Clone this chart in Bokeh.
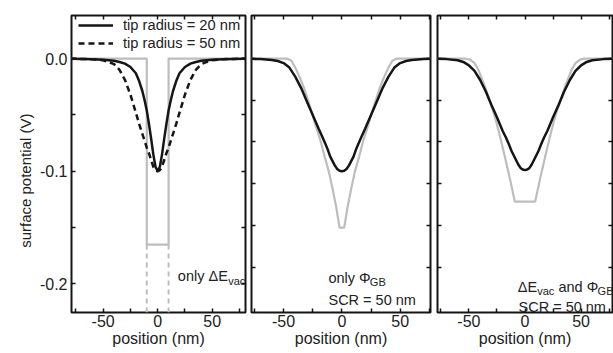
import math
from bokeh.plotting import figure
from bokeh.layouts import row
from bokeh.models import (Range1d, FixedTicker, LinearAxis, Label, Legend,
                          LegendItem, NumeralTickFormatter)
from bokeh.embed import file_html
from bokeh.resources import INLINE

# ---------------- data ----------------
x_grid = [-80, -70, -60, -55, -50, -45, -40, -35, -30, -25, -20, -17, -14, -12, -10,
          -8, -6, -4, -2, 0, 2, 4, 6, 8, 10, 12, 14, 17, 20, 25, 30, 35, 40, 45, 50,
          55, 60, 70, 80]

# panel 1: only dE_vac
tip20 = [-0.0002, -0.0003, -0.0006, -0.0008, -0.001, -0.0015, -0.002, -0.003, -0.0045,
         -0.0075, -0.013, -0.020, -0.029, -0.037, -0.046, -0.058, -0.071, -0.085, -0.096,
         -0.100, -0.096, -0.085, -0.071, -0.058, -0.046, -0.037, -0.029, -0.020, -0.013,
         -0.0075, -0.0045, -0.003, -0.002, -0.0015, -0.001, -0.0008, -0.0006, -0.0003,
         -0.0002]
tip50 = [-0.0002, -0.0003, -0.0006, -0.001, -0.0015, -0.003, -0.005, -0.010, -0.019,
         -0.032, -0.048, -0.058, -0.067, -0.073, -0.079, -0.084, -0.090, -0.096, -0.099,
         -0.100, -0.099, -0.096, -0.090, -0.084, -0.079, -0.073, -0.067, -0.058, -0.048,
         -0.032, -0.019, -0.010, -0.005, -0.003, -0.0015, -0.001, -0.0006, -0.0003,
         -0.0002]
step_x = [-80, -10, -10, 10, 10, 80]
step_y = [0, 0, -0.165, -0.165, 0, 0]
core_x = [-10, 10]
core_depth = -0.165

# panel 2: only Phi_GB
phi_meas = [-0.0002, -0.0004, -0.0012, -0.0022, -0.004, -0.008, -0.016, -0.026, -0.038,
            -0.050, -0.062, -0.069, -0.076, -0.081, -0.087, -0.091, -0.095, -0.098,
            -0.0995, -0.100, -0.0995, -0.098, -0.095, -0.091, -0.087, -0.081, -0.076,
            -0.069, -0.062, -0.050, -0.038, -0.026, -0.016, -0.008, -0.004, -0.0022,
            -0.0012, -0.0004, -0.0002]
phi_x = [-80, -47, -43.3, -40, -36.2, -32.5, -29, -25.5, -22, -18, -14.8, -11, -7.7, -5, -2,
         2, 5, 7.7, 11, 14.8, 18, 22, 25.5, 29, 32.5, 36.2, 40, 43.3, 47, 80]
phi_y = [0, 0, -0.002, -0.008, -0.0165, -0.026, -0.037, -0.049, -0.061, -0.074, -0.087,
         -0.101, -0.117, -0.131, -0.150, -0.150, -0.131, -0.117, -0.101, -0.087, -0.074,
         -0.061, -0.049, -0.037, -0.026, -0.0165, -0.008, -0.002, 0, 0]

# panel 3: dE_vac and Phi_GB
both_meas = [-0.0002, -0.0005, -0.0015, -0.003, -0.006, -0.011, -0.019, -0.029, -0.041,
             -0.052, -0.064, -0.070, -0.077, -0.082, -0.086, -0.090, -0.094, -0.097,
             -0.0985, -0.099, -0.0985, -0.097, -0.094, -0.090, -0.086, -0.082, -0.077,
             -0.070, -0.064, -0.052, -0.041, -0.029, -0.019, -0.011, -0.006, -0.003,
             -0.0015, -0.0005, -0.0002]
both_x = [-80, -53, -49, -45, -42, -39, -35, -31.7, -27, -22.8, -18, -13.8, -11, -9,
          9, 11, 13.8, 18, 22.8, 27, 31.7, 35, 39, 42, 45, 49, 53, 80]
both_y = [0, 0, -0.001, -0.004, -0.009, -0.0165, -0.027, -0.037, -0.051, -0.067, -0.087,
          -0.105, -0.118, -0.127, -0.127, -0.118, -0.105, -0.087, -0.067, -0.051, -0.037,
          -0.027, -0.0165, -0.009, -0.004, -0.001, 0, 0]

x_major = [-50, 0, 50]
x_minor = [-75, -25, 25, 75]
y_major = [0, -0.1, -0.2]
y_minor = [-0.05, -0.15]
y_ticks_23 = [0, -0.037, -0.074, -0.111, -0.148, -0.185]

legend_labels = ["tip radius = 20 nm", "tip radius = 50 nm"]
xlabel = "position (nm)"
ylabel = "surface potential (V)"

# ---------------- styling ----------------
FONT = "Liberation Sans"
TXT = "#222222"
BLACK = "#151515"
GRAY = "#bdbdbd"
H = 353
Y_RANGE = (-0.2253, 0.0382)
TITLE_W = 36          # strip that carries the y-axis title


def ticks_only(ax, positions):
    # axis that only draws inward tick marks (no labels)
    ax.ticker = FixedTicker(ticks=[], minor_ticks=positions)
    ax.axis_line_color = None
    ax.major_tick_in = 0
    ax.major_tick_out = 0
    ax.minor_tick_in = 4
    ax.minor_tick_out = 0
    ax.minor_tick_line_color = BLACK
    ax.minor_tick_line_width = 1.5
    ax.major_label_standoff = 0


def labelled(ax, major, minor, fmt, standoff=2):
    ax.ticker = FixedTicker(ticks=major, minor_ticks=minor)
    ax.axis_line_color = None
    ax.major_tick_in = 4
    ax.major_tick_out = 0
    ax.minor_tick_in = 4
    ax.minor_tick_out = 0
    ax.major_tick_line_color = BLACK
    ax.minor_tick_line_color = BLACK
    ax.major_tick_line_width = 1.5
    ax.minor_tick_line_width = 1.5
    ax.formatter = fmt
    ax.major_label_text_font = FONT
    ax.major_label_text_font_size = "16px"
    ax.major_label_text_color = TXT
    ax.major_label_standoff = standoff


def make_fig(width, xr, bl, br, first):
    p = figure(width=width, height=H, x_range=Range1d(*xr), y_range=Range1d(*Y_RANGE),
               output_backend="svg", toolbar_location=None,
               min_border_left=bl, min_border_right=br,
               min_border_top=15, min_border_bottom=41)
    p.grid.visible = False
    p.outline_line_color = BLACK
    p.outline_line_width = 2
    p.background_fill_color = "white"
    p.border_fill_color = "white"
    xa = p.xaxis[0]
    labelled(xa, x_major, x_minor, NumeralTickFormatter(format="0"), standoff=2)
    xa.axis_label = xlabel
    xa.axis_label_text_font = FONT
    xa.axis_label_text_font_size = "16px"
    xa.axis_label_text_font_style = "normal"
    xa.axis_label_text_color = TXT
    xa.axis_label_standoff = 0
    top = LinearAxis()
    ticks_only(top, x_major + x_minor)
    p.add_layout(top, "above")
    right = LinearAxis()
    if first:
        labelled(p.yaxis[0], y_major, y_minor, NumeralTickFormatter(format="0.0"), 4)
        ticks_only(right, y_major + y_minor)
    else:
        ticks_only(p.yaxis[0], y_ticks_23)
        ticks_only(right, y_ticks_23)
    p.add_layout(right, "right")
    return p


def add_text(p, x, y, text, size="14.5px", align="left"):
    p.add_layout(Label(x=x, y=y, text=text, text_font=FONT, text_font_size=size,
                       text_color=TXT, text_align=align, text_baseline="alphabetic"))


# ---------------- y-axis title strip ----------------
# same vertical layout as the panels so the title can sit at the reference's height
p0 = figure(width=TITLE_W, height=H, x_range=Range1d(0, 1), y_range=Range1d(*Y_RANGE),
            output_backend="svg", toolbar_location=None,
            x_axis_location=None, y_axis_location=None,
            min_border_left=0, min_border_right=0, min_border_top=15,
            min_border_bottom=41)
p0.grid.visible = False
p0.outline_line_color = None
p0.background_fill_color = "white"
p0.border_fill_color = "white"
p0.add_layout(Label(x=0.69, y=-0.1084, text=ylabel, angle=math.pi / 2,
                    text_font=FONT, text_font_size="15px", text_color=TXT,
                    text_align="center", text_baseline="middle"))

# ---------------- panel 1 ----------------
p1 = make_fig(248 - TITLE_W, (-79, 80.5), 67 - TITLE_W, 3, True)

p1.line(step_x, step_y, line_color=GRAY, line_width=2.2)
p1.segment(x0=core_x, y0=[core_depth] * len(core_x), x1=core_x,
           y1=[Y_RANGE[0]] * len(core_x), line_color=GRAY, line_width=2,
           line_dash="5 4")
r50 = p1.line(x_grid, tip50, line_color=BLACK, line_width=2.5, line_dash="6 4")
r20 = p1.line(x_grid, tip20, line_color=BLACK, line_width=2.5)

legend = Legend(items=[LegendItem(label=legend_labels[0], renderers=[r20]),
                       LegendItem(label=legend_labels[1], renderers=[r50])],
                location=(7, 260), padding=1, margin=0, spacing=0,
                glyph_width=35, glyph_height=18, label_height=18, label_standoff=10,
                label_text_font=FONT, label_text_font_size="14.7px",
                label_text_color=TXT, border_line_color=None,
                background_fill_alpha=0)
p1.add_layout(legend)

add_text(p1, 64.3, -0.1929, "only \u0394E", align="right")
add_text(p1, 64.6, -0.1973, "vac", size="11px")

# ---------------- panel 2 ----------------
p2 = make_fig(185, (-77.5, 76), 3, 3, False)
p2.line(phi_x, phi_y, line_color=GRAY, line_width=2.2)
p2.line(x_grid, phi_meas, line_color=BLACK, line_width=2.5)
add_text(p2, -11.5, -0.1947, "only \u03a6")
add_text(p2, 24.0, -0.1982, "GB", size="11px")
add_text(p2, -11.5, -0.2142, "SCR = 50 nm")

# ---------------- panel 3 ----------------
p3 = make_fig(180, (-78, 78), 4, 1, False)
p3.line(both_x, both_y, line_color=GRAY, line_width=2.2)
p3.line(x_grid, both_meas, line_color=BLACK, line_width=2.5)
add_text(p3, -6.5, -0.2027, "\u0394E")
add_text(p3, 10.9, -0.2062, "vac", size="11px")
add_text(p3, 29.8, -0.2027, "and \u03a6")
add_text(p3, 64.7, -0.2062, "GB", size="11px")
add_text(p3, -5.8, -0.2204, "SCR = 50 nm")

layout = row(p0, p1, p2, p3)
open("out.html", "w").write(file_html(layout, INLINE))
